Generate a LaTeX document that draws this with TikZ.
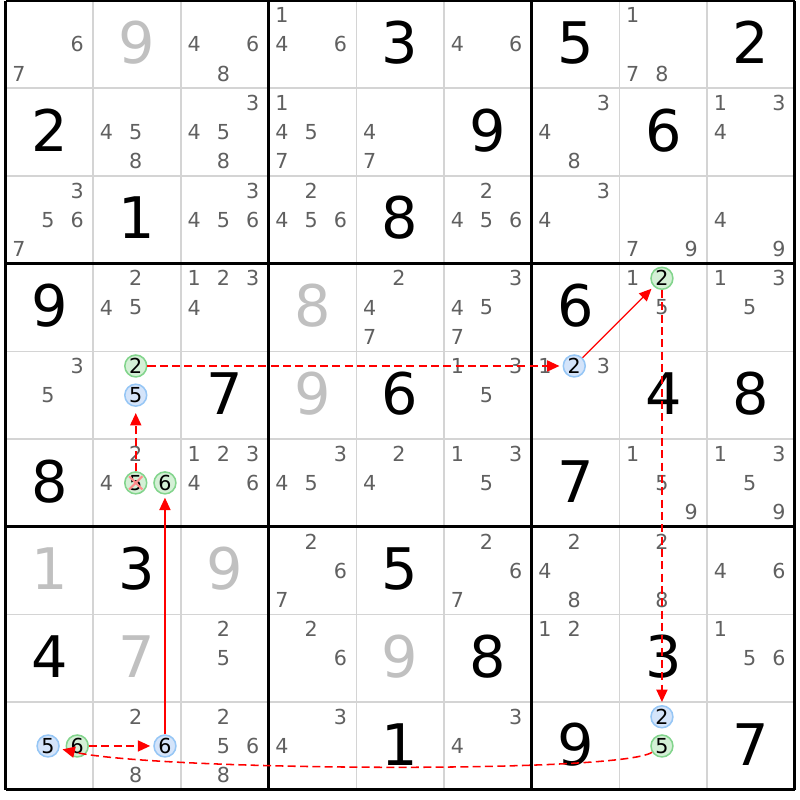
\documentclass[tikz,border=0pt]{standalone}
\usepackage{fontspec}
\setmainfont{DejaVu Sans}
\usepackage{tikz}
\usetikzlibrary{arrows.meta}
\definecolor{candgray}{RGB}{96,96,96}
\definecolor{givgray}{RGB}{192,192,192}
\definecolor{gridgray}{RGB}{212,212,212}
\definecolor{grnfill}{RGB}{212,240,214}
\definecolor{grnline}{RGB}{130,212,140}
\definecolor{blufill}{RGB}{212,228,250}
\definecolor{bluline}{RGB}{150,198,245}
\tikzset{
  given/.style={ inner sep=0pt, font=\fontsize{18.6}{20}\selectfont }
}
\tikzset{
  givenG/.style={ given, text=givgray }
}
\tikzset{
  cand/.style={ inner sep=0pt, text=candgray, font=\fontsize{6.7}{7}\selectfont }
}
\tikzset{
  circG/.style={ cand, text=black, draw=grnline, fill=grnfill, circle, line width=0.5pt, minimum size=2.5mm }
}
\tikzset{
  circB/.style={ cand, text=black, draw=bluline, fill=blufill, circle, line width=0.5pt, minimum size=2.5mm }
}
\tikzset{
  link/.style={ red, line width=0.45pt, -{Triangle[length=4pt,width=3.6pt]}, shorten >=1pt }
}
\tikzset{
  weak/.style={ link, line width=0.5pt, dash pattern=on 2.6pt off 1.4pt }
}
% given digit: [style]{col}{row}{digit}
\newcommand{\gv}[4][given]{\node[#1] (g#3#2) at (#2-0.5,#3-0.52) {#4};}
% one candidate: [style]{col}{row}{digit}
\newcommand{\pcand}[4][cand]{\node[#1] (p#3#2#4) at ({#2-1+0.152+0.333*mod(#4-1,3)},{#3-1+0.167+0.333*int((#4-1)/3)}) {#4};}
% candidate list: {col}{row}{digits}
\newcommand{\cands}[3]{\foreach \k in {#3} {\pcand{#1}{#2}{\k}}}

\begin{document}
\begin{tikzpicture}[x=1cm, y=-1cm]
      \useasboundingbox (-0.063,-0.006) rectangle (9.059,9.116);

      % grid
      \foreach \i in {1,2,4,5,7,8} {
        \draw[gridgray, line width=0.5pt] (\i,0) -- (\i,9);
        \draw[gridgray, line width=0.5pt] (0,\i) -- (9,\i);
      }
      \foreach \i in {0,3,6,9} {
        \draw[line width=1.05pt] (\i,0) -- (\i,9);
        \draw[line width=1.05pt] (0,\i) -- (9,\i);
      }

      % row 1
      \cands{1}{1}{6,7} \gv[givenG]{2}{1}{9} \cands{3}{1}{4,6,8}
      \cands{4}{1}{1,4,6} \gv{5}{1}{3} \cands{6}{1}{4,6}
      \gv{7}{1}{5} \cands{8}{1}{1,7,8} \gv{9}{1}{2}
      % row 2
      \gv{1}{2}{2} \cands{2}{2}{4,5,8} \cands{3}{2}{3,4,5,8}
      \cands{4}{2}{1,4,5,7} \cands{5}{2}{4,7} \gv{6}{2}{9}
      \cands{7}{2}{3,4,8} \gv{8}{2}{6} \cands{9}{2}{1,3,4}
      % row 3
      \cands{1}{3}{3,5,6,7} \gv{2}{3}{1} \cands{3}{3}{3,4,5,6}
      \cands{4}{3}{2,4,5,6} \gv{5}{3}{8} \cands{6}{3}{2,4,5,6}
      \cands{7}{3}{3,4} \cands{8}{3}{7,9} \cands{9}{3}{4,9}
      % row 4
      \gv{1}{4}{9} \cands{2}{4}{2,4,5} \cands{3}{4}{1,2,3,4}
      \gv[givenG]{4}{4}{8} \cands{5}{4}{2,4,7} \cands{6}{4}{3,4,5,7}
      \gv{7}{4}{6} \cands{8}{4}{1,5} \pcand[circG]{8}{4}{2} \cands{9}{4}{1,3,5}
      % row 5
      \cands{1}{5}{3,5} \pcand[circG]{2}{5}{2} \pcand[circB]{2}{5}{5} \gv{3}{5}{7}
      \gv[givenG]{4}{5}{9} \gv{5}{5}{6} \cands{6}{5}{1,3,5}
      \cands{7}{5}{1,3} \pcand[circB]{7}{5}{2} \gv{8}{5}{4} \gv{9}{5}{8}
      % row 6
      \gv{1}{6}{8} \cands{2}{6}{2,4} \pcand[circG]{2}{6}{5} \pcand[circG]{2}{6}{6} \cands{3}{6}{1,2,3,4,6}
      \cands{4}{6}{3,4,5} \cands{5}{6}{2,4} \cands{6}{6}{1,3,5}
      \gv{7}{6}{7} \cands{8}{6}{1,5,9} \cands{9}{6}{1,3,5,9}
      % row 7
      \gv[givenG]{1}{7}{1} \gv{2}{7}{3} \gv[givenG]{3}{7}{9}
      \cands{4}{7}{2,6,7} \gv{5}{7}{5} \cands{6}{7}{2,6,7}
      \cands{7}{7}{2,4,8} \cands{8}{7}{2,8} \cands{9}{7}{4,6}
      % row 8
      \gv{1}{8}{4} \gv[givenG]{2}{8}{7} \cands{3}{8}{2,5}
      \cands{4}{8}{2,6} \gv[givenG]{5}{8}{9} \gv{6}{8}{8}
      \cands{7}{8}{1,2} \gv{8}{8}{3} \cands{9}{8}{1,5,6}
      % row 9
      \pcand[circB]{1}{9}{5} \pcand[circG]{1}{9}{6} \cands{2}{9}{2,8} \pcand[circB]{2}{9}{6} \cands{3}{9}{2,5,6,8}
      \cands{4}{9}{3,4} \gv{5}{9}{1} \cands{6}{9}{3,4}
      \gv{7}{9}{9} \pcand[circB]{8}{9}{2} \pcand[circG]{8}{9}{5} \gv{9}{9}{7}

      % eliminated candidate
      \draw[red!45, line width=0.65pt] ([shift={(-0.075,-0.075)}]p625.center) -- ([shift={(0.075,0.075)}]p625.center);
      \draw[red!45, line width=0.65pt] ([shift={(-0.075,0.075)}]p625.center) -- ([shift={(0.075,-0.075)}]p625.center);

      % chain
      \draw[weak, shorten >=2pt] (p625) -- (p525);
      \draw[weak] (p522) -- (p572);
      \draw[link, line width=0.35pt] (p572) -- (p482);
      \draw[weak] (p482) -- (p982);
      \draw[weak] (p985) .. controls +(-0.5,0.32) and +(1.2,0.28) .. (p915);
      \draw[weak] (p916) -- (p926);
      \draw[link] (p926) -- (p626);
    \end{tikzpicture}
\end{document}
